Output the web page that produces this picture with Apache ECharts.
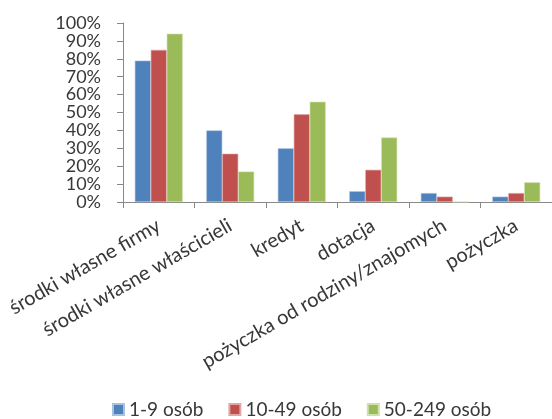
<!DOCTYPE html>
<html><head><meta charset="utf-8">
<script src="https://cdn.jsdelivr.net/npm/echarts@6/dist/echarts.min.js"></script>
<style>html,body{margin:0;padding:0;background:#fff}#c{width:552px;height:419px}</style>
</head><body><div id="c"></div>
<script>
const categories = ['środki własne firmy','środki własne właścicieli','kredyt','dotacja','pożyczka od rodziny/znajomych','pożyczka'];
const seriesNames = ['1-9 osób','10-49 osób','50-249 osób'];
const small = [79, 40, 30, 6, 5, 3];
const medium = [85, 27, 49, 18, 3, 5];
const large = [94, 17, 56, 36, 0, 11];
const colors = ['#4F81BD','#C0504D','#9BBB59'];
const borders = ['#a9c1e0','#e0a7a5','#cde0ae'];
const font = 'Lato';
const chart = echarts.init(document.getElementById('c'));
const data = [small, medium, large];
chart.setOption({
  animation: false,
  textStyle: {fontFamily: font},
  legend: {
    top: 400, left: 112, padding: 0,
    itemWidth: 11, itemHeight: 11, itemGap: 25,
    icon: 'rect',
    textStyle: {fontFamily: font, fontSize: 19, color: '#383838'},
    data: seriesNames
  },
  grid: {left: 123, right: -18, top: 23, bottom: 217, containLabel: false},
  xAxis: {
    type: 'category', data: categories,
    axisLine: {lineStyle: {color: '#888', width: 1}},
    axisTick: {show: true, length: 6, lineStyle: {color: '#888'}},
    axisLabel: {rotate: 30, margin: 22, interval: 0, fontSize: 20, color: '#383838', fontFamily: font}
  },
  yAxis: {
    type: 'value', min: 0, max: 100, interval: 10,
    axisLine: {show: true, lineStyle: {color: '#888'}},
    axisTick: {show: true, length: 6, inside: false, lineStyle: {color: '#888'}},
    splitLine: {show: false},
    axisLabel: {formatter: '{value}%', fontSize: 18, color: '#383838', margin: 22, fontFamily: font}
  },
  series: seriesNames.map((n, i) => ({
    name: n, type: 'bar', data: data[i],
    barGap: '0%', barCategoryGap: '33%',
    itemStyle: {color: colors[i], borderColor: borders[i], borderWidth: 0.6}
  }))
});
</script></body></html>
